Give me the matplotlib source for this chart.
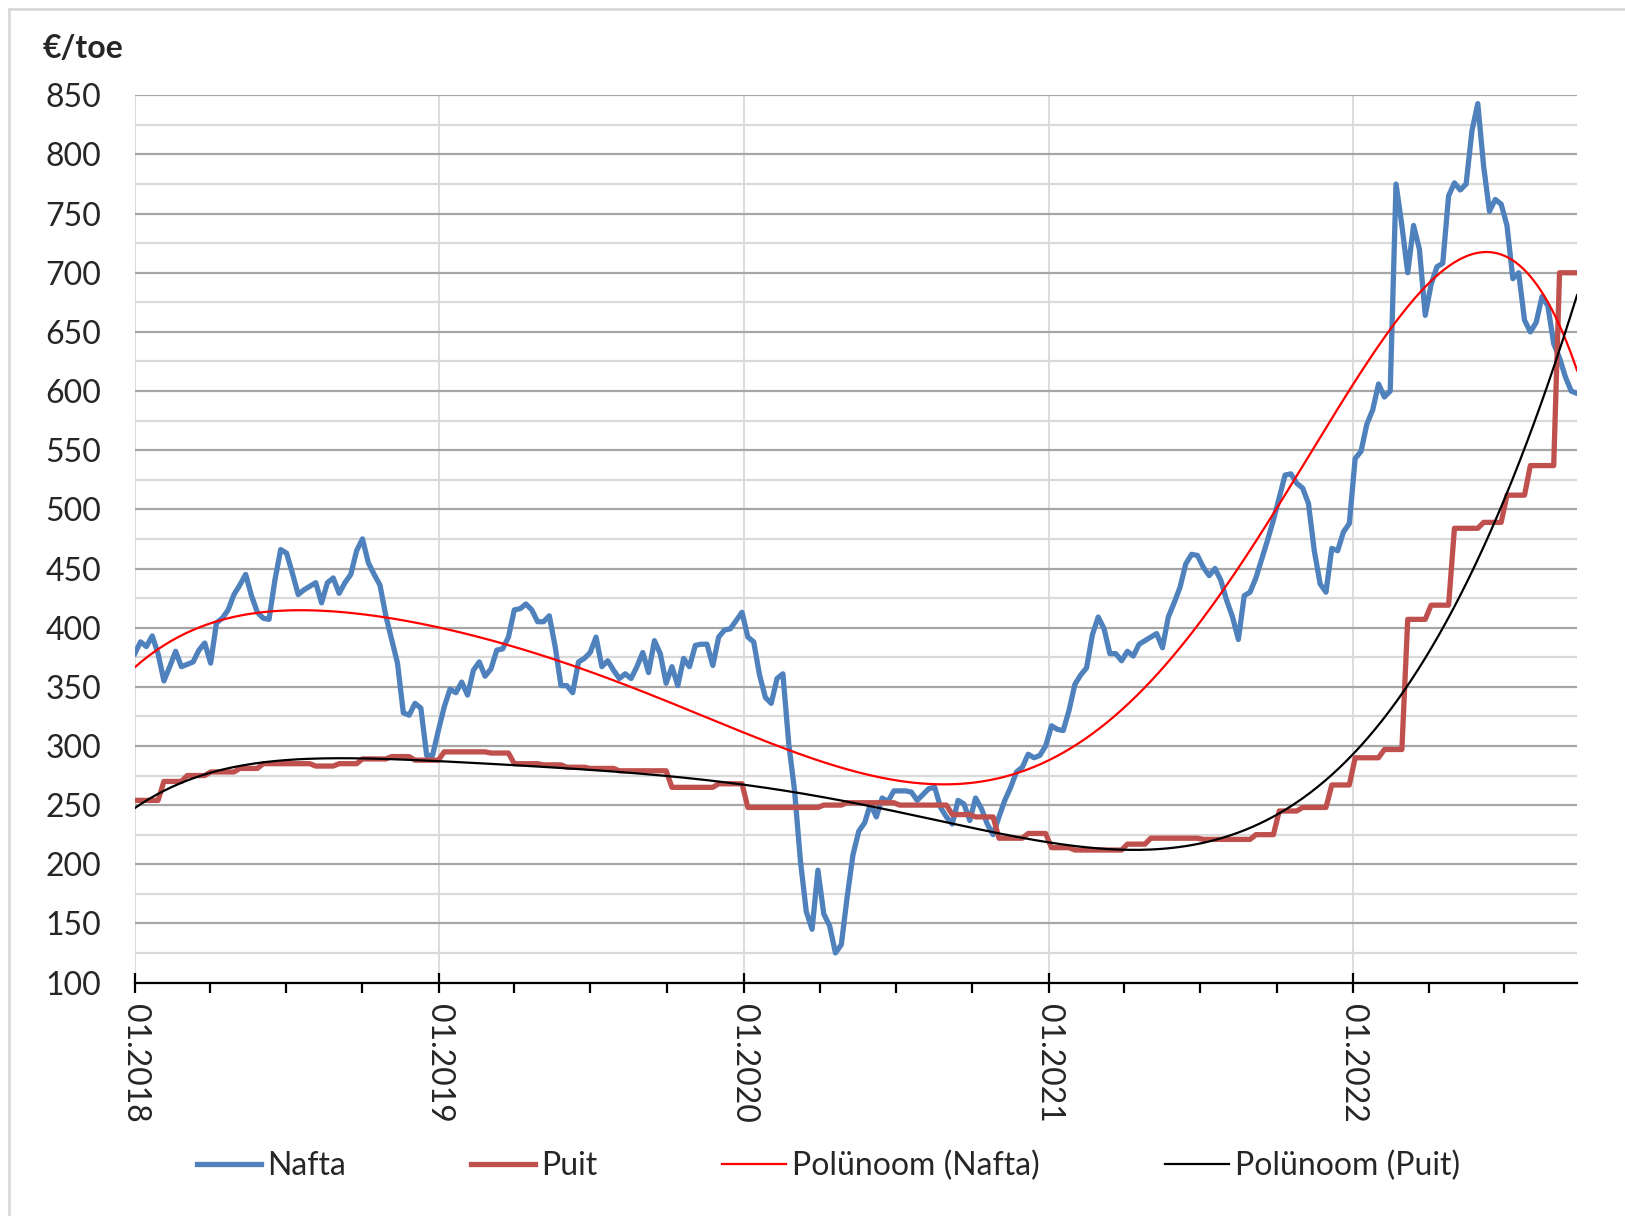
import numpy as np
import pandas as pd
import matplotlib
matplotlib.use("Agg")
import matplotlib.pyplot as plt
import matplotlib.dates as mdates
from matplotlib.lines import Line2D
from matplotlib.ticker import MultipleLocator

plt.rcParams['font.family'] = ['Lato', 'DejaVu Sans']

# weekly Nafta price, EUR/toe (each list starts in the first week of the year)
nafta_2018 = [378, 388, 384, 393, 378, 355, 367, 380, 367, 369, 371, 381, 387, 370, 404, 408, 415, 428, 436, 445,
              427, 413, 408, 407, 440, 466, 463, 446, 428, 432, 435, 438, 421, 438, 442, 429, 438, 445, 465, 475,
              455, 445, 436, 410, 390, 370, 328, 326, 336, 332, 292, 292]
nafta_2019 = [313, 333, 348, 345, 354, 343, 364, 371, 359, 365, 381, 382, 392, 415, 416, 420, 415, 405, 405, 410,
              384, 351, 351, 345, 371, 374, 379, 392, 367, 372, 364, 357, 361, 357, 367, 379, 362, 389, 378, 353,
              367, 351, 374, 367, 385, 386, 386, 368, 392, 398, 399, 406]
nafta_2020 = [413, 392, 388, 360, 341, 336, 357, 361, 302, 262, 203, 160, 145, 195, 158, 148, 125, 132, 172, 208,
              228, 235, 251, 240, 256, 253, 262, 262, 262, 261, 254, 259, 264, 265, 248, 240, 234, 254, 251, 237,
              256, 247, 234, 225, 240, 254, 265, 278, 282, 293, 290, 292]
nafta_2021 = [300, 317, 314, 313, 330, 352, 360, 366, 394, 409, 399, 378, 378, 372, 380, 376, 386, 389, 392, 395,
              383, 409, 421, 434, 454, 462, 461, 451, 444, 450, 440, 423, 409, 390, 427, 430, 442, 458, 474, 491,
              510, 529, 530, 522, 518, 505, 465, 437, 430, 467, 465, 481]
nafta_2022 = [488, 543, 549, 572, 584, 606, 595, 600, 775, 740, 700, 740, 720, 664, 690, 705, 708, 765, 776, 770,
              775, 820, 843, 790, 752, 762, 758, 740, 695, 700, 660, 650, 658, 680, 672, 640, 628, 612, 600, 598]

# monthly wood (Puit) price, EUR/toe
puit_2018 = [254, 270, 275, 278, 281, 285, 285, 283, 285, 289, 291, 288]
puit_2019 = [295, 295, 294, 285, 284, 282, 281, 279, 279, 265, 265, 268]
puit_2020 = [248, 248, 248, 250, 252, 252, 250, 250, 242, 240, 222, 226]
puit_2021 = [214, 212, 212, 217, 222, 222, 221, 221, 225, 245, 248, 267]
puit_2022 = [290, 297, 407, 419, 484, 489, 512, 537, 700]

labels = ['Nafta', 'Puit', 'Polünoom (Nafta)', 'Polünoom (Puit)']

nafta = np.array(nafta_2018 + nafta_2019 + nafta_2020 + nafta_2021 + nafta_2022, dtype=float)
puit_m = puit_2018 + puit_2019 + puit_2020 + puit_2021 + puit_2022
dates = pd.date_range('2018-01-01', periods=len(nafta), freq='7D')
puit = np.array([puit_m[(d.year - 2018) * 12 + d.month - 1] for d in dates], dtype=float)

# polynomial trendlines (like Excel's, order 6), fitted in years
t = (dates - dates[0]).days.values / 365.25
tt = np.linspace(t[0], t[-1], 400)
tdates = dates[0] + pd.to_timedelta(tt * 365.25, unit='D')
pn = np.polyval(np.polyfit(t, nafta, 6), tt)
pp = np.polyval(np.polyfit(t, puit, 6), tt)

fig = plt.figure(figsize=(16.25, 12.16), dpi=100)
ax = fig.add_axes([0.0829, 0.192, 0.8876, 0.7296])

ax.plot(dates, nafta, color='#4F81BD', lw=3.8, solid_joinstyle='round', zorder=3)
ax.plot(dates, puit, color='#C0504D', lw=3.8, solid_joinstyle='round', zorder=3)
ax.plot(tdates, pn, color='#FF0000', lw=1.6, zorder=4)
ax.plot(tdates, pp, color='black', lw=1.6, zorder=4)

ax.set_ylim(100, 850)
ax.set_xlim(dates[0], dates[-1])
ax.yaxis.set_major_locator(MultipleLocator(50))
ax.yaxis.set_minor_locator(MultipleLocator(25))
ax.grid(which='major', axis='y', color='#a6a6a6', lw=1.6)
ax.grid(which='minor', axis='y', color='#d9d9d9', lw=1.6)
ax.xaxis.set_major_locator(mdates.YearLocator())
ax.xaxis.set_minor_locator(mdates.MonthLocator(bymonth=[4, 7, 10]))
ax.xaxis.set_major_formatter(mdates.DateFormatter('%m.%Y'))
ax.grid(which='major', axis='x', color='#d9d9d9', lw=1.3)
ax.set_axisbelow(True)

for s in ['top', 'right', 'left']:
    ax.spines[s].set_visible(False)
ax.spines['bottom'].set_color('black')
ax.spines['bottom'].set_linewidth(1.6)
ax.spines['bottom'].set_zorder(5)

ax.tick_params(axis='y', which='both', length=0, labelsize=23, pad=24, colors='#262626')
ax.tick_params(axis='x', which='major', direction='inout', length=15, width=1.6, labelsize=23,
               pad=8, labelrotation=270, colors='black')
ax.tick_params(axis='x', which='minor', direction='out', length=7, width=1.6)
for lab in ax.get_xticklabels():
    lab.set_color('#262626')

fig.text(43 / 1625, 1 - 34 / 1216, '€/toe', fontsize=23, fontweight='bold', va='top', ha='left', color='#262626')

handles = [Line2D([], [], color='#4F81BD', lw=3.8),
           Line2D([], [], color='#C0504D', lw=3.8),
           Line2D([], [], color='#FF0000', lw=1.6),
           Line2D([], [], color='black', lw=1.6)]
leg = fig.legend(handles, labels, loc='center', bbox_to_anchor=(0.51, 0.041), ncol=4, frameon=False,
                 handlelength=2.0, handletextpad=0.2, columnspacing=3.9, fontsize=23)
for txt in leg.get_texts():
    txt.set_color('#262626')

# light border of the chart area
fig.add_artist(Line2D([9 / 1625, 9 / 1625], [0, 1 - 9 / 1216], color='#d9d9d9', lw=2, transform=fig.transFigure))
fig.add_artist(Line2D([9 / 1625, 1], [1 - 9 / 1216, 1 - 9 / 1216], color='#d9d9d9', lw=2, transform=fig.transFigure))

fig.savefig('out.png', dpi=100)
